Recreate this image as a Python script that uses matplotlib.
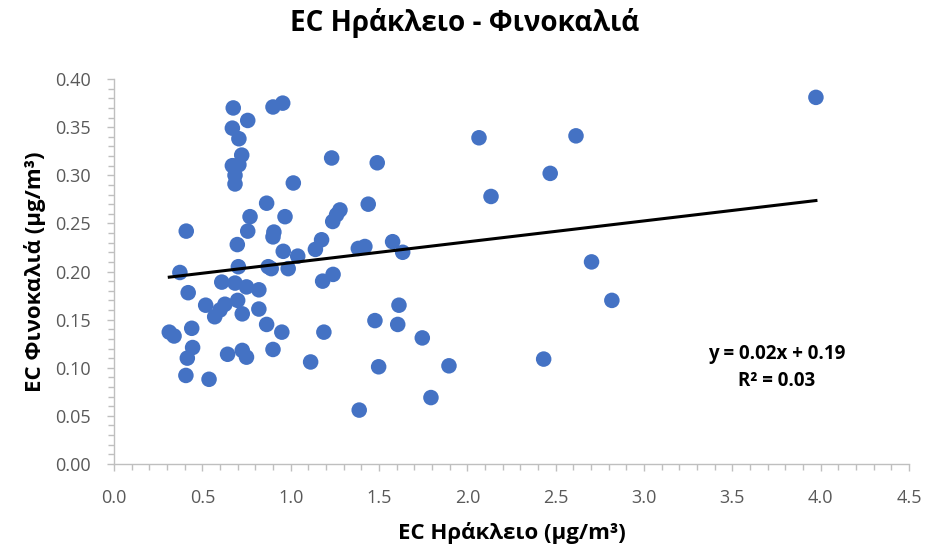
import numpy as np
import matplotlib.pyplot as plt
from matplotlib.ticker import MultipleLocator

# -----------------------------------------
# DATA
# -----------------------------------------
ec_heraklion = [
    0.313, 0.34, 0.373, 0.409, 0.42, 0.44, 0.445, 0.415, 0.407,
    0.519, 0.538, 0.57, 0.60, 0.61, 0.628, 0.643,
    0.675, 0.67, 0.707, 0.723, 0.67, 0.707, 0.685, 0.685, 0.757,
    0.698, 0.685, 0.704, 0.70, 0.726, 0.75, 0.726, 0.75, 0.757, 0.77,
    0.82, 0.82, 0.864, 0.864, 0.873, 0.89, 0.905, 0.90, 0.90, 0.90,
    0.955, 0.95, 0.968, 0.958, 0.986,
    1.015, 1.04, 1.113, 1.14, 1.175, 1.181, 1.188, 1.232, 1.238, 1.26,
    1.279, 1.24,
    1.383, 1.42, 1.388, 1.439, 1.477, 1.49, 1.498, 1.577, 1.613, 1.606,
    1.634, 1.745, 1.794, 1.896,
    2.066, 2.134, 2.432, 2.469, 2.615, 2.703, 2.818, 3.973,
]

ec_finokalia = [
    0.137, 0.133, 0.199, 0.242, 0.178, 0.141, 0.121, 0.110, 0.092,
    0.165, 0.088, 0.153, 0.160, 0.189, 0.166, 0.114,
    0.370, 0.349, 0.338, 0.321, 0.310, 0.311, 0.300, 0.291, 0.357,
    0.228, 0.188, 0.205, 0.170, 0.156, 0.184, 0.118, 0.111, 0.242, 0.257,
    0.181, 0.161, 0.145, 0.271, 0.205, 0.203, 0.241, 0.236, 0.119, 0.371,
    0.375, 0.137, 0.257, 0.221, 0.203,
    0.292, 0.216, 0.106, 0.223, 0.233, 0.190, 0.137, 0.318, 0.252, 0.259,
    0.264, 0.197,
    0.224, 0.226, 0.056, 0.270, 0.149, 0.313, 0.101, 0.231, 0.165, 0.145,
    0.220, 0.131, 0.069, 0.102,
    0.339, 0.278, 0.109, 0.302, 0.341, 0.210, 0.170, 0.381,
]

trend_label = "y = 0.02x + 0.19\nR\u00b2 = 0.03"

# -----------------------------------------
# STYLE
# -----------------------------------------
plt.rcParams["font.family"] = ["Open Sans", "DejaVu Sans"]

BLUE = "#4472C4"
GREY_AXIS = "#BFBFBF"
GREY_TEXT = "#595959"

# -----------------------------------------
# FIGURE
# -----------------------------------------
fig = plt.figure(figsize=(9.29, 5.53), dpi=100)
ax = fig.add_axes([0.1227, 0.161, 0.8558, 0.696])

x = np.array(ec_heraklion)
y = np.array(ec_finokalia)

ax.scatter(x, y, s=125, color=BLUE, edgecolors="none", zorder=3)

# linear trend line
slope, intercept = np.polyfit(x, y, 1)
xs = np.array([x.min(), x.max()])
ax.plot(xs, slope * xs + intercept, color="black", linewidth=2.2, zorder=4)

ax.text(3.75, 0.100, trend_label, ha="center", va="center",
        fontsize=13.5, fontweight="bold", color="black", linespacing=1.45)

# -----------------------------------------
# AXES
# -----------------------------------------
ax.set_xlim(0, 4.5)
ax.set_ylim(0, 0.40)

ax.xaxis.set_major_locator(MultipleLocator(0.5))
ax.xaxis.set_minor_locator(MultipleLocator(0.1))
ax.yaxis.set_major_locator(MultipleLocator(0.05))
ax.yaxis.set_minor_locator(MultipleLocator(0.01))

ax.xaxis.set_major_formatter(lambda v, p: f"{v:.1f}")
ax.yaxis.set_major_formatter(lambda v, p: f"{v:.2f}")

for side in ["top", "right"]:
    ax.spines[side].set_visible(False)
for side in ["left", "bottom"]:
    ax.spines[side].set_color(GREY_AXIS)
    ax.spines[side].set_linewidth(1.0)

ax.tick_params(which="major", length=5, width=1, color=GREY_AXIS,
               labelsize=13, labelcolor=GREY_TEXT)
ax.tick_params(which="minor", length=4, width=1, color=GREY_AXIS)
ax.tick_params(axis="x", which="major", pad=13)
ax.tick_params(axis="y", which="major", pad=12)

ax.set_xlabel("EC Ηράκλειο (μg/m\u00b3)", fontsize=16, fontweight="bold",
              labelpad=11)
ax.set_ylabel("EC Φινοκαλιά (μg/m\u00b3)", fontsize=16, fontweight="bold",
              labelpad=6)

fig.suptitle("EC Ηράκλειο - Φινοκαλιά", fontsize=20, fontweight="bold",
             x=0.5, y=0.985)

fig.savefig("out.png", dpi=100)
